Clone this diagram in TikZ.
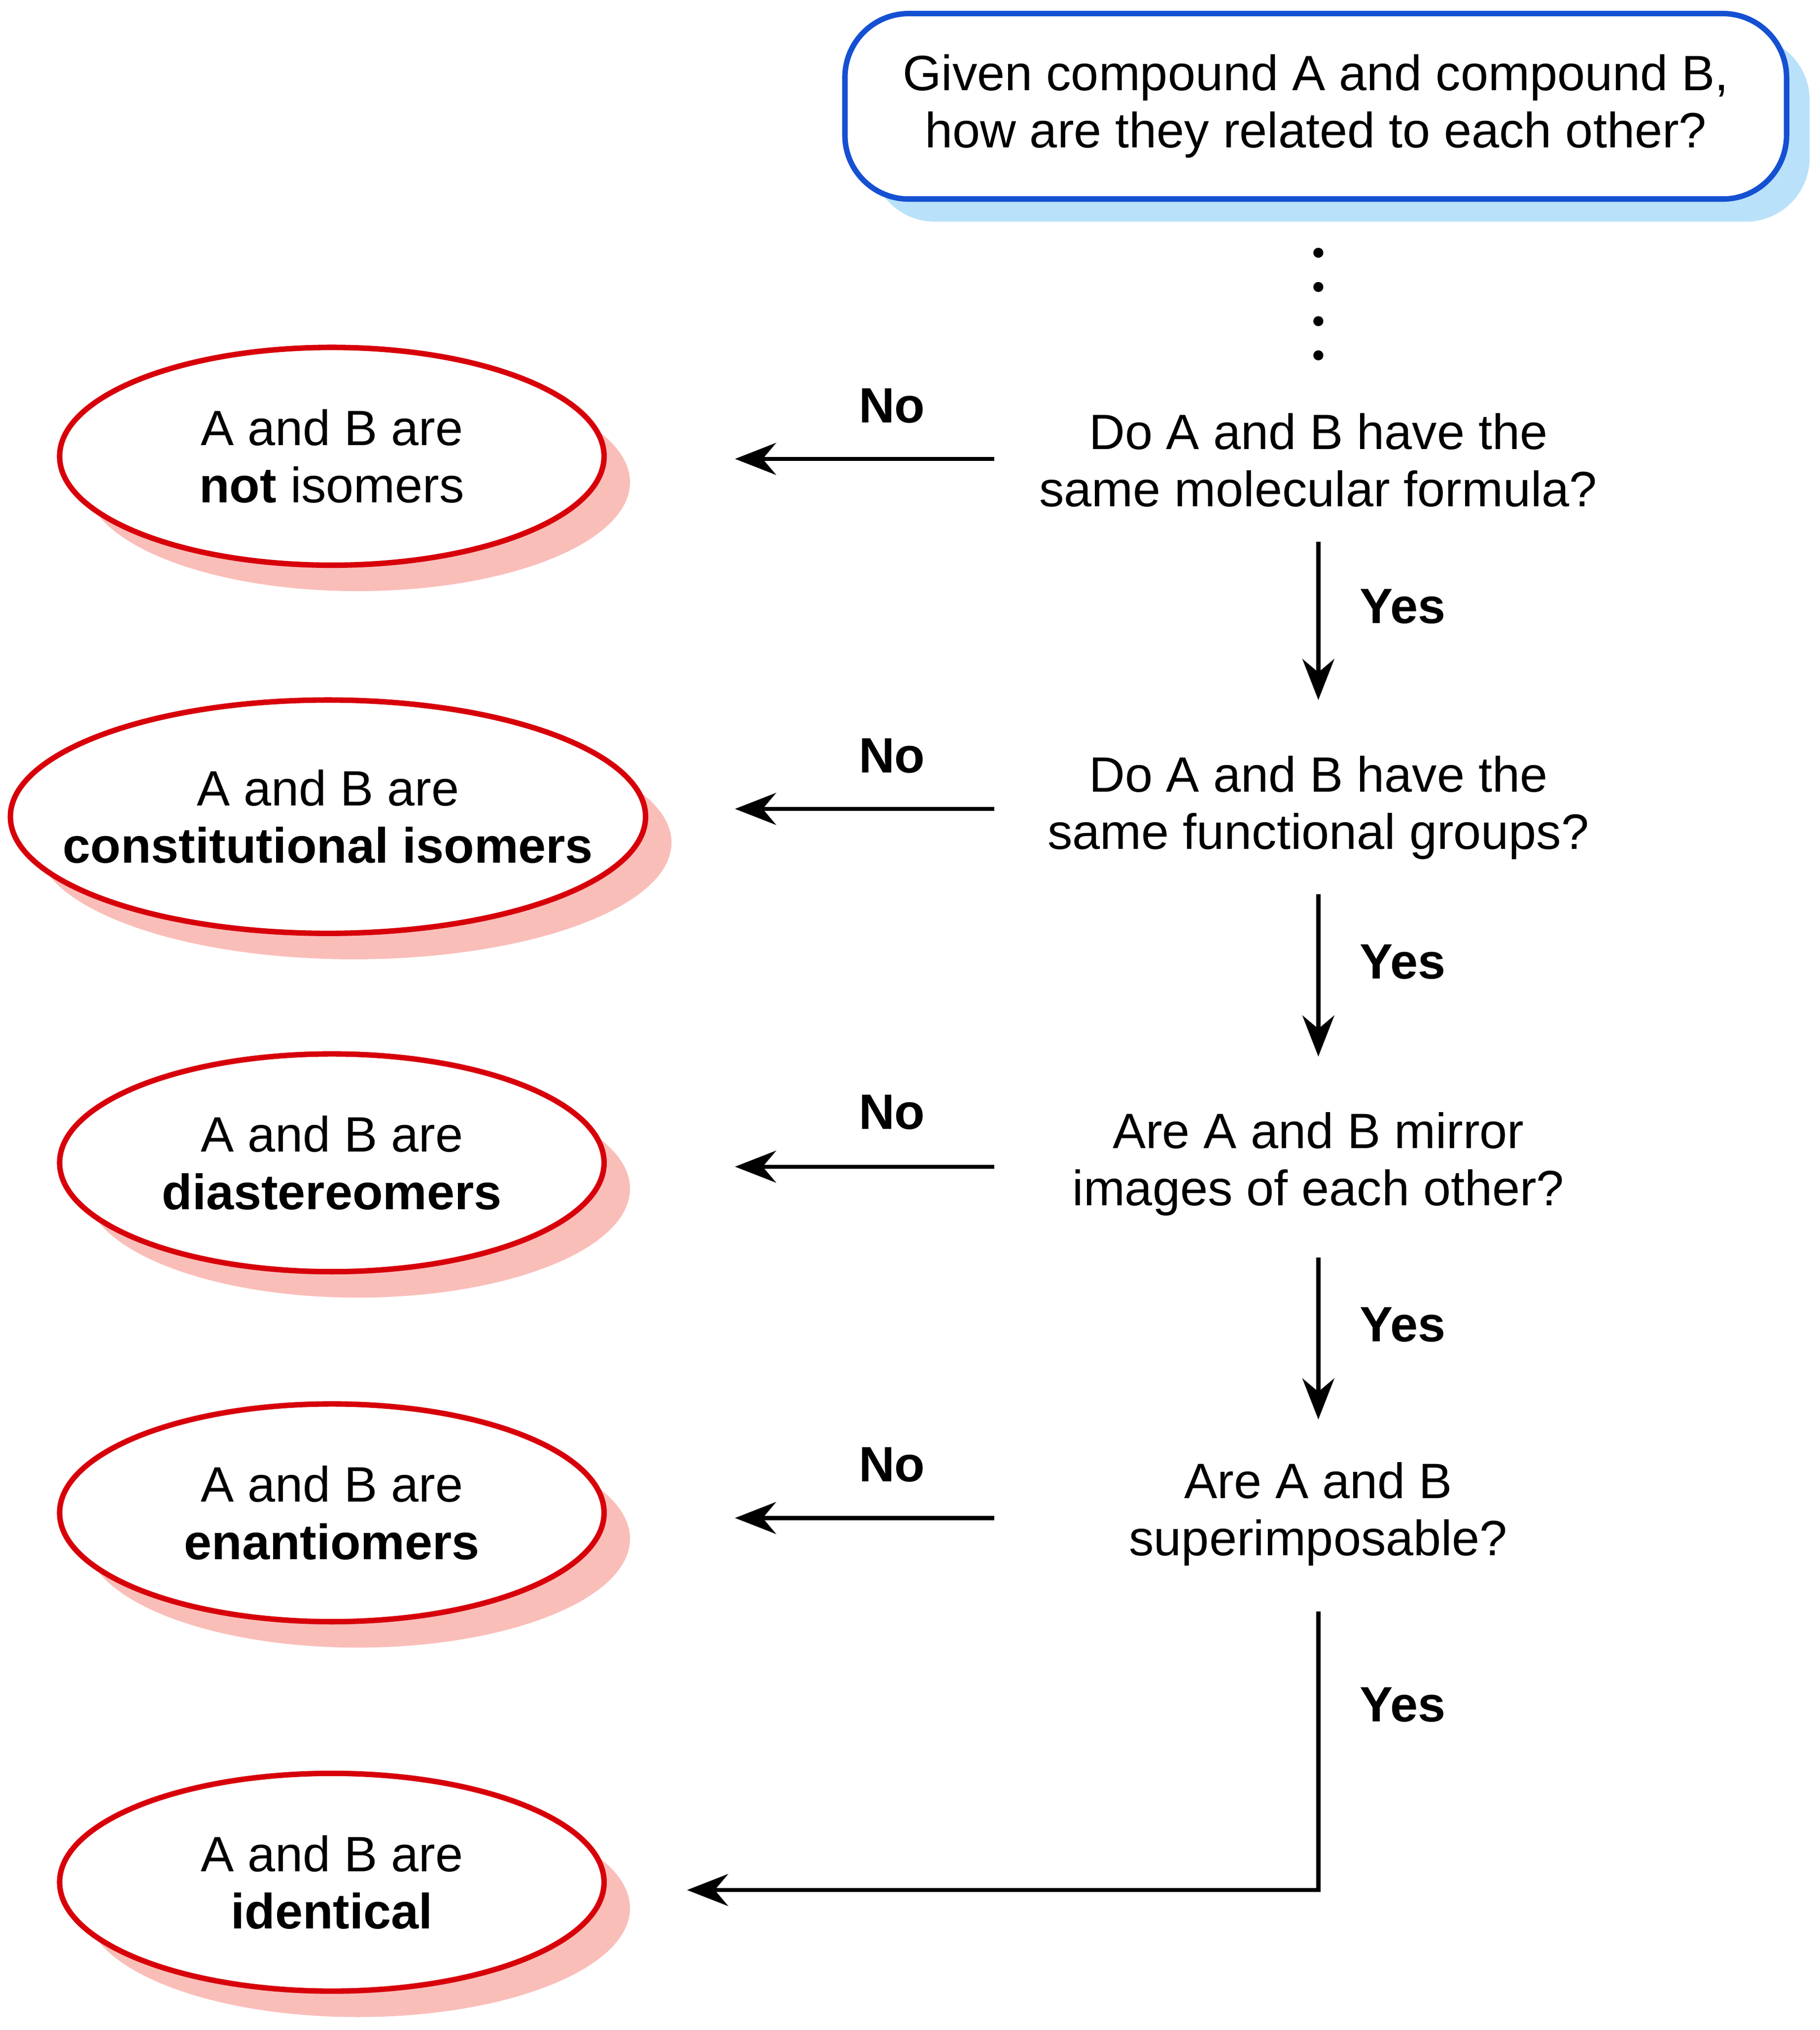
\documentclass[tikz,border=0pt]{standalone}
\usepackage{fontspec}
\setmainfont{Liberation Sans}
\usetikzlibrary{arrows.meta}
\definecolor{boxblue}{RGB}{20,80,210}
\definecolor{shblue}{RGB}{185,225,250}
\definecolor{ellred}{RGB}{215,0,10}
\definecolor{shpink}{RGB}{250,190,185}
\tikzset{
  qtext/.style={align=center,font=\fontsize{10.9}{12.6}\selectfont},
  lbl/.style={font=\fontsize{10.9}{12.6}\selectfont\bfseries},
  endtext/.style={align=center,font=\fontsize{10.9}{12.6}\selectfont,inner sep=0pt},
  flow/.style={-{Stealth[length=9pt,width=7pt]},line width=0.9pt}
}
\begin{document}
\begin{tikzpicture}[x=0.01cm,y=-0.01cm]
  \useasboundingbox (0,0) rectangle (1404,1566);
  % start box
  \fill[shblue,rounded corners=14pt] (672,28) rectangle (1396,171);
  \node[draw=boxblue,line width=1.2pt,fill=white,rounded corners=14pt,
    minimum width=7.26cm,minimum height=1.43cm,qtext] (start) at (1015,82)
    {Given compound A and compound B,\\how are they related to each other?};
  % questions
  \node[qtext] (q1) at (1017,355) {Do A and B have the\\same molecular formula?};
  \node[qtext] (q2) at (1017,623) {Do A and B have the\\same functional groups?};
  \node[qtext] (q3) at (1017,898) {Are A and B mirror\\images of each other?};
  \node[qtext] (q4) at (1017,1168) {Are A and B\\superimposable?};
  % answers, with shadows
  \foreach \n/\cx/\cy/\rx/\ry/\txt in {
      e1/256/352/210/84/{A and B are\\\textbf{not} isomers},
      e2/253/630/245/90/{A and B are\\\textbf{constitutional isomers}},
      e3/256/897/210/84/{A and B are\\\textbf{diastereomers}},
      e4/256/1167/210/84/{A and B are\\\textbf{enantiomers}},
      e5/256/1452/210/84/{A and B are\\\textbf{identical}}} {
    \fill[shpink] (\cx+20,\cy+20) ellipse[x radius=\rx,y radius=\ry];
    \filldraw[draw=ellred,fill=white,line width=1.2pt] (\cx,\cy) ellipse[x radius=\rx,y radius=\ry];
    \node[endtext] (\n) at (\cx,\cy) {\txt};
  }
  % connectors
  \coordinate (d1) at (1017,195);
  \coordinate (d2) at (1017,285);
  \draw[line width=2.2pt,dash pattern=on 0pt off 7.5pt,line cap=round] (d1) -- (d2);
  \coordinate (n1) at (767,354);
  \coordinate (n2) at (767,624);
  \coordinate (n3) at (767,900);
  \coordinate (n4) at (767,1171);
  \draw[flow] (n1) -- (567,354);
  \draw[flow] (n2) -- (567,624);
  \draw[flow] (n3) -- (567,900);
  \draw[flow] (n4) -- (567,1171);
  \node[lbl] (no1) at (688,313) {No};
  \node[lbl] (no2) at (688,583) {No};
  \node[lbl] (no3) at (688,858) {No};
  \node[lbl] (no4) at (688,1130) {No};
  \draw[flow] (1017,418) -- (1017,540);
  \draw[flow] (1017,690) -- (1017,815);
  \draw[flow] (1017,970) -- (1017,1095);
  \coordinate (bend) at (1017,1458);
  \draw[flow] (1017,1243) -- (bend) -- (530,1458);
  \node[lbl] (y1) at (1082,468) {Yes};
  \node[lbl] (y2) at (1082,742) {Yes};
  \node[lbl] (y3) at (1082,1022) {Yes};
  \node[lbl] (y4) at (1082,1315) {Yes};
\end{tikzpicture}
\end{document}
